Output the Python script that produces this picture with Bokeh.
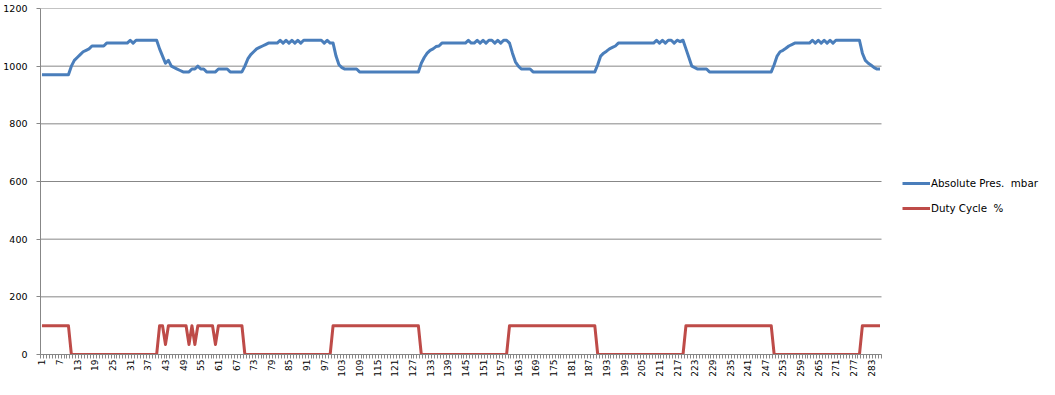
from math import pi
from bokeh.plotting import figure
from bokeh.models import FixedTicker, Legend, LegendItem, Range1d, ColumnDataSource
from bokeh.embed import file_html
from bokeh.resources import INLINE

# ---------------- data ----------------
sample_index = list(range(1, 287))

absolute_pressure_mbar = [
    970, 970, 970, 970, 970, 970, 970, 970, 970, 970,
    1000, 1020, 1030, 1040, 1050, 1055, 1060, 1070, 1070, 1070,
    1070, 1070, 1080, 1080, 1080, 1080, 1080, 1080, 1080, 1080,
    1090, 1080, 1090, 1090, 1090, 1090, 1090, 1090, 1090, 1090,
    1060, 1035, 1010, 1020, 1000, 995, 990, 985, 980, 980,
    980, 990, 990, 1000, 990, 990, 980, 980, 980, 980,
    990, 990, 990, 990, 980, 980, 980, 980, 980, 1000,
    1025, 1040, 1050, 1060, 1065, 1070, 1075, 1080, 1080, 1080,
    1080, 1090, 1080, 1090, 1080, 1090, 1080, 1090, 1080, 1090,
    1090, 1090, 1090, 1090, 1090, 1090, 1080, 1090, 1080, 1080,
    1035, 1005, 995, 990, 990, 990, 990, 990, 980, 980,
    980, 980, 980, 980, 980, 980, 980, 980, 980, 980,
    980, 980, 980, 980, 980, 980, 980, 980, 980, 1010,
    1030, 1045, 1055, 1060, 1068, 1070, 1080, 1080, 1080, 1080,
    1080, 1080, 1080, 1080, 1080, 1090, 1080, 1080, 1090, 1080,
    1090, 1080, 1090, 1090, 1080, 1090, 1080, 1090, 1090, 1080,
    1045, 1015, 1000, 990, 990, 990, 990, 980, 980, 980,
    980, 980, 980, 980, 980, 980, 980, 980, 980, 980,
    980, 980, 980, 980, 980, 980, 980, 980, 980, 1005,
    1035, 1045, 1052, 1060, 1065, 1070, 1080, 1080, 1080, 1080,
    1080, 1080, 1080, 1080, 1080, 1080, 1080, 1080, 1080, 1090,
    1080, 1090, 1080, 1090, 1090, 1080, 1090, 1085, 1090, 1060,
    1030, 1000, 995, 990, 990, 990, 990, 980, 980, 980,
    980, 980, 980, 980, 980, 980, 980, 980, 980, 980,
    980, 980, 980, 980, 980, 980, 980, 980, 980, 1005,
    1035, 1050, 1055, 1062, 1070, 1075, 1080, 1080, 1080, 1080,
    1080, 1080, 1090, 1080, 1090, 1080, 1090, 1080, 1090, 1080,
    1090, 1090, 1090, 1090, 1090, 1090, 1090, 1090, 1090, 1045,
    1020, 1010, 1003, 995, 990, 990,
]

duty_cycle_pct = [
    100, 100, 100, 100, 100, 100, 100, 100, 100, 100,
    0, 0, 0, 0, 0, 0, 0, 0, 0, 0,
    0, 0, 0, 0, 0, 0, 0, 0, 0, 0,
    0, 0, 0, 0, 0, 0, 0, 0, 0, 0,
    100, 100, 35, 100, 100, 100, 100, 100, 100, 100,
    35, 100, 35, 100, 100, 100, 100, 100, 100, 35,
    100, 100, 100, 100, 100, 100, 100, 100, 100, 0,
    0, 0, 0, 0, 0, 0, 0, 0, 0, 0,
    0, 0, 0, 0, 0, 0, 0, 0, 0, 0,
    0, 0, 0, 0, 0, 0, 0, 0, 0, 100,
    100, 100, 100, 100, 100, 100, 100, 100, 100, 100,
    100, 100, 100, 100, 100, 100, 100, 100, 100, 100,
    100, 100, 100, 100, 100, 100, 100, 100, 100, 0,
    0, 0, 0, 0, 0, 0, 0, 0, 0, 0,
    0, 0, 0, 0, 0, 0, 0, 0, 0, 0,
    0, 0, 0, 0, 0, 0, 0, 0, 0, 100,
    100, 100, 100, 100, 100, 100, 100, 100, 100, 100,
    100, 100, 100, 100, 100, 100, 100, 100, 100, 100,
    100, 100, 100, 100, 100, 100, 100, 100, 100, 0,
    0, 0, 0, 0, 0, 0, 0, 0, 0, 0,
    0, 0, 0, 0, 0, 0, 0, 0, 0, 0,
    0, 0, 0, 0, 0, 0, 0, 0, 0, 100,
    100, 100, 100, 100, 100, 100, 100, 100, 100, 100,
    100, 100, 100, 100, 100, 100, 100, 100, 100, 100,
    100, 100, 100, 100, 100, 100, 100, 100, 100, 0,
    0, 0, 0, 0, 0, 0, 0, 0, 0, 0,
    0, 0, 0, 0, 0, 0, 0, 0, 0, 0,
    0, 0, 0, 0, 0, 0, 0, 0, 0, 100,
    100, 100, 100, 100, 100, 100,
]

x_tick_labels = [1, 7, 13, 19, 25, 31, 37, 43, 49, 55, 61, 67, 73, 79, 85, 91, 97,
                 103, 109, 115, 121, 127, 133, 139, 145, 151, 157, 163, 169, 175,
                 181, 187, 193, 199, 205, 211, 217, 223, 229, 235, 241, 247, 253,
                 259, 265, 271, 277, 283]
y_tick_labels = [0, 200, 400, 600, 800, 1000, 1200]
series_names = ["Absolute Pres.  mbar", "Duty Cycle  %"]

# ---------------- styling / layout ----------------
FONT = "DejaVu Sans"
FSIZE = "9.5px"
GRID = "#878787"
BLUE = "#4A7EBB"
RED = "#BE4B48"

W, H = 1039, 379
LEFT, TOP, BOTTOM = 40, 8, 23
PLOT_W = 841                      # width of the data area in pixels
FRAME_W = W - LEFT                # frame reaches the right edge; legend lives in it

n = len(sample_index)
x_lo, x_hi = 0.5, n + 0.5
px_per_unit = PLOT_W / (x_hi - x_lo)
x_end = x_lo + FRAME_W / px_per_unit

src = ColumnDataSource(dict(x=sample_index, p=absolute_pressure_mbar, d=duty_cycle_pct))

p = figure(width=W, height=H, output_backend="svg", toolbar_location=None,
           x_range=Range1d(x_lo, x_end), y_range=Range1d(0, 1200),
           min_border_left=LEFT, min_border_right=0, min_border_top=TOP,
           min_border_bottom=BOTTOM)
p.outline_line_color = None
p.background_fill_color = "white"
p.border_fill_color = "white"

# horizontal gridlines limited to the data area
p.segment(x0=[x_lo] * len(y_tick_labels), x1=[x_hi] * len(y_tick_labels),
          y0=y_tick_labels, y1=y_tick_labels, line_color=GRID, line_width=1)
p.xgrid.visible = False
p.ygrid.visible = False

r1 = p.line("x", "p", source=src, line_color=BLUE, line_width=3, line_join="round")
r2 = p.line("x", "d", source=src, line_color=RED, line_width=3, line_join="round")

# x axis (category style)
boundaries = [k + 0.5 for k in range(0, n + 1)]
p.xaxis.bounds = (x_lo, x_hi)
p.xaxis.ticker = FixedTicker(ticks=x_tick_labels, minor_ticks=boundaries)
p.xaxis.major_tick_out = 0
p.xaxis.major_tick_in = 0
p.xaxis.minor_tick_out = 4
p.xaxis.minor_tick_in = 0
p.xaxis.minor_tick_line_color = GRID
p.xaxis.axis_line_color = GRID
p.xaxis.major_label_orientation = pi / 2
p.xaxis.major_label_standoff = 1
p.xaxis.major_label_text_font = FONT
p.xaxis.major_label_text_font_size = "9px"
p.xaxis.major_label_text_color = "#000000"

# y axis
p.yaxis.ticker = FixedTicker(ticks=y_tick_labels, minor_ticks=[])
p.yaxis.major_tick_out = 4
p.yaxis.major_tick_in = 0
p.yaxis.major_tick_line_color = GRID
p.yaxis.axis_line_color = GRID
p.yaxis.major_label_standoff = 9
p.yaxis.major_label_text_font = FONT
p.yaxis.major_label_text_font_size = FSIZE
p.yaxis.major_label_text_color = "#000000"

legend = Legend(items=[LegendItem(label=series_names[0], renderers=[r1]),
                       LegendItem(label=series_names[1], renderers=[r2])],
                location=(862, 136), orientation="vertical",
                padding=0, margin=0, spacing=5, glyph_width=28, glyph_height=20,
                label_height=20, label_standoff=1,
                label_text_font=FONT, label_text_font_size="10.3px",
                label_text_color="#000000",
                border_line_color=None, background_fill_alpha=0)
p.add_layout(legend)

open("out.html", "w").write(file_html(p, INLINE))
